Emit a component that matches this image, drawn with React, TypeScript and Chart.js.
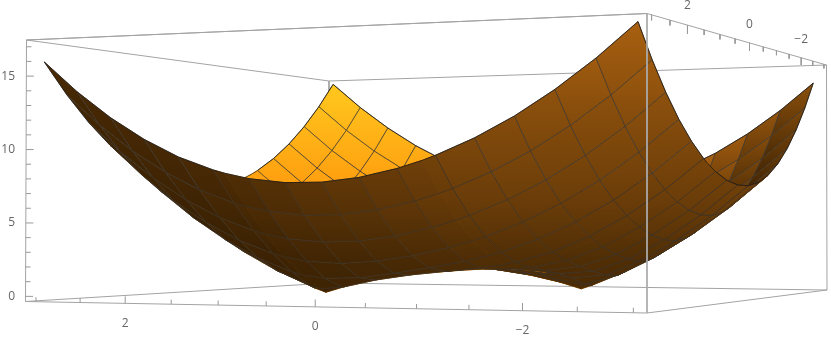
import React, { useEffect, useRef } from "react";
import { Chart, registerables } from "chart.js";
Chart.register(...registerables);

// Surface height read from the picture; rows run along x, columns along y.
const gridX = [-3,-2.625,-2.25,-1.875,-1.5,-1.125,-1,-0.75,-0.375,0,0.375,0.75,1,1.125,1.5,1.875,2.25,2.625,3];
const gridY = [-3,-2.625,-2.25,-1.875,-1.5,-1.125,-1,-0.75,-0.375,0,0.375,0.75,1,1.125,1.5,1.875,2.25,2.625,3];
const noMesh = [-1, 1];
const z00=[16.00,13.90,12.09,10.58,9.37,8.48,8.25,7.89,7.61,7.62,7.90,8.44,8.94,9.24,10.29,11.59,13.16,14.99,17.09];
const z01=[13.90,11.78,9.96,8.44,7.23,6.34,6.11,5.77,5.51,5.55,5.86,6.41,6.92,7.21,8.25,9.53,11.08,12.90,14.99];
const z02=[12.09,9.96,8.13,6.59,5.37,4.47,4.25,3.92,3.71,3.80,4.14,4.71,5.20,5.49,6.50,7.76,9.29,11.08,13.16];
const z03=[10.58,8.44,6.59,5.03,3.78,2.88,2.66,2.36,2.23,2.41,2.79,3.35,3.82,4.09,5.06,6.28,7.76,9.53,11.59];
const z04=[9.37,7.23,5.37,3.78,2.50,1.56,1.35,1.11,1.19,1.52,1.92,2.39,2.80,3.03,3.91,5.06,6.50,8.25,10.29];
const z05=[8.48,6.34,4.47,2.88,1.56,0.53,0.29,0.41,0.96,1.34,1.61,1.88,2.14,2.31,3.03,4.09,5.49,7.21,9.24];
const z06=[8.25,6.11,4.25,2.66,1.35,0.29,0.00,0.50,1.06,1.41,1.62,1.80,2.00,2.14,2.80,3.82,5.20,6.92,8.94];
const z07=[7.89,5.77,3.92,2.36,1.11,0.41,0.50,0.88,1.35,1.62,1.72,1.74,1.80,1.88,2.39,3.35,4.71,6.41,8.44];
const z08=[7.61,5.51,3.71,2.23,1.19,0.96,1.06,1.35,1.72,1.90,1.88,1.72,1.62,1.61,1.92,2.79,4.14,5.86,7.90];
const z09=[7.62,5.55,3.80,2.41,1.52,1.34,1.41,1.62,1.90,2.00,1.90,1.62,1.41,1.34,1.52,2.41,3.80,5.55,7.62];
const z10=[7.90,5.86,4.14,2.79,1.92,1.61,1.62,1.72,1.88,1.90,1.72,1.35,1.06,0.96,1.19,2.23,3.71,5.51,7.61];
const z11=[8.44,6.41,4.71,3.35,2.39,1.88,1.80,1.74,1.72,1.62,1.35,0.88,0.50,0.41,1.11,2.36,3.92,5.77,7.89];
const z12=[8.94,6.92,5.20,3.82,2.80,2.14,2.00,1.80,1.62,1.41,1.06,0.50,0.00,0.29,1.35,2.66,4.25,6.11,8.25];
const z13=[9.24,7.21,5.49,4.09,3.03,2.31,2.14,1.88,1.61,1.34,0.96,0.41,0.29,0.53,1.56,2.88,4.47,6.34,8.48];
const z14=[10.29,8.25,6.50,5.06,3.91,3.03,2.80,2.39,1.92,1.52,1.19,1.11,1.35,1.56,2.50,3.78,5.37,7.23,9.37];
const z15=[11.59,9.53,7.76,6.28,5.06,4.09,3.82,3.35,2.79,2.41,2.23,2.36,2.66,2.88,3.78,5.03,6.59,8.44,10.58];
const z16=[13.16,11.08,9.29,7.76,6.50,5.49,5.20,4.71,4.14,3.80,3.71,3.92,4.25,4.47,5.37,6.59,8.13,9.96,12.09];
const z17=[14.99,12.90,11.08,9.53,8.25,7.21,6.92,6.41,5.86,5.55,5.51,5.77,6.11,6.34,7.23,8.44,9.96,11.78,13.90];
const z18=[17.09,14.99,13.16,11.59,10.29,9.24,8.94,8.44,7.90,7.62,7.61,7.89,8.25,8.48,9.37,10.58,12.09,13.90,16.00];
const zRows=[z00,z01,z02,z03,z04,z05,z06,z07,z08,z09,z10,z11,z12,z13,z14,z15,z16,z17,z18];
const zTicks=[0,5,10,15];
const zMinorTicks=[0,1,2,3,4,5,6,7,8,9,10,11,12,13,14,15,16,17];
const planeTicks=[3,2.5,2,1.5,1,.5,0,-.5,-1,-1.5,-2,-2.5,-3];
const xLabels:[number,string,number][]=[[2,"2",20],[0,"0",20],[-2,"\u22122",20]];
const yLabels:[number,string,number][]=[[2,"2",-20],[0,"0",-18.5],[-2,"\u22122",-18]];

const RX=3.12, ZMIN=-0.35, ZMAX=17.46;
const cols=[
 {u:0,v:1,bx:647,by:313,tx:647,ty:13.5,w:.003339},
 {u:1,v:1,bx:25.5,by:301.5,tx:26.5,ty:40,w:.003824},
 {u:0,v:0,bx:827,by:290,tx:826.5,ty:65,w:.004444},
 {u:1,v:0,bx:329,by:283,tx:329,ty:81,w:.00495},
];
const toY=(py:number)=>(296.3-py)/14.68;
function proj(x:number,y:number,z:number){
  const u=(x+RX)/(2*RX), v=(y+RX)/(2*RX), t=(z-ZMIN)/(ZMAX-ZMIN);
  let sx=0,sy=0,sw=0;
  for(const c of cols){
    const b=(c.u?u:1-u)*(c.v?v:1-v)*c.w;
    sx+=b*((1-t)*c.bx+t*c.tx); sy+=b*((1-t)*c.by+t*c.ty); sw+=b;
  }
  return {px:sx/sw,py:sy/sw};
}
const P=(x:number,y:number,z:number)=>{const p=proj(x,y,z);return {x:p.px,y:toY(p.py)};};
const clamp=(v:number,a:number,b:number)=>Math.max(a,Math.min(b,v));
const ramp=(v:number,xs:number[],ys:number[])=>{
  if(v<=xs[0])return ys[0];
  for(let i=1;i<xs.length;i++) if(v<=xs[i]) return ys[i-1]+(ys[i]-ys[i-1])*(v-xs[i-1])/(xs[i]-xs[i-1]);
  return ys[ys.length-1];
};
const brown=(t:number)=>`rgb(${168*t},${96*t},${clamp(20*t-4,0,30)})`;
function underColor(x:number,y:number){
  const base=ramp(y,[40,100,200,260,290],[1,.82,.64,.47,.45]);
  const g=ramp(x,[60,200,300,400,480],[.47,.6,.8,.9,1]);
  return brown(clamp(base*g,.3,1.02));
}
function topColor(x:number,y:number){
  if(x>600){
    const edge=165-(x-715)*.78;
    return brown(clamp(.85-(x-715)*.0018-(y-edge)*.006,.35,1));
  }
  const k=clamp((y-85)/95,0,1.2);
  return `rgb(255,${200-40*k},${30-14*k})`;
}
const MESH="rgba(58,50,42,.8)";
const RIM="rgba(30,22,14,.85)";

export default function App(){
  const ref=useRef<HTMLCanvasElement>(null);
  useEffect(()=>{
    const canvas=ref.current!;
    const ctx=canvas.getContext("2d")!;
    const surface:any[]=[];
    const nx=gridX.length-1, ny=gridY.length-1;
    for(let i=nx-1;i>=0;i--)for(let j=0;j<ny;j++){
      const c=[[i,j],[i+1,j],[i+1,j+1],[i,j+1]];
      const pts=c.map(([a,b])=>proj(gridX[a],gridY[b],zRows[a][b]));
      let area=0;
      for(let k=0;k<4;k++){const p=pts[k],q=pts[(k+1)%4];area+=p.px*q.py-q.px*p.py;}
      const ys=pts.map(p=>p.py), xs=pts.map(p=>p.px);
      const y0=Math.min(...ys),y1=Math.max(...ys),cx=xs.reduce((a,b)=>a+b,0)/4;
      const col=area<0?topColor:underColor;
      const g=ctx.createLinearGradient(0,y0,0,y1+0.01);
      g.addColorStop(0,col(cx,y0));g.addColorStop(1,col(cx,y1));
      const mesh=[!noMesh.includes(gridY[j]),!noMesh.includes(gridX[i+1]),!noMesh.includes(gridY[j+1]),!noMesh.includes(gridX[i])];
      const rim=[j===0,i+1===nx,j+1===ny,i===0];
      const loop=[...pts,pts[0]].map(p=>({x:p.px,y:toY(p.py)}));
      const allMesh=mesh.every(Boolean);
      surface.push({type:"line",data:loop,borderColor:allMesh?MESH:g,backgroundColor:g,borderWidth:.85,pointRadius:0,fill:"shape",tension:0});
      mesh.forEach((m,k)=>{
        if(rim[k]) surface.push({type:"line",data:[loop[k],loop[k+1]],borderColor:RIM,borderWidth:.85,pointRadius:0,fill:false});
        else if(m&&!allMesh) surface.push({type:"line",data:[loop[k],loop[k+1]],borderColor:MESH,borderWidth:.85,pointRadius:0,fill:false});
      });
    }
    const BOX="#a3a3a3";
    const seg=(a:any,b:any,color=BOX,w=1)=>({type:"line",data:[a,b],borderColor:color,borderWidth:w,pointRadius:0,fill:false});
    const bA=P(RX,RX,ZMIN),tA=P(RX,RX,ZMAX),bB=P(-RX,RX,ZMIN),tB=P(-RX,RX,ZMAX),bC=P(-RX,-RX,ZMIN),tC=P(-RX,-RX,ZMAX),bD=P(RX,-RX,ZMIN),tD=P(RX,-RX,ZMAX);
    const back=[seg(tD,bD),seg(tD,tA),seg(tD,tC),seg(bD,bA),seg(bD,bC),seg(tA,tB),seg(tC,bC)];
    const front=[seg(bA,bB),seg(bB,bC),seg(tB,bB,"#ababab"),seg(tA,bA),seg(tA,tB),seg(tB,tC)];
    const ticks:any[]=[];
    for(const v of planeTicks){
      const maj=v%2===0;
      ticks.push(seg(P(v,RX,ZMIN),P(v,RX,ZMIN+(maj?.47:.3)),"#999"));
      ticks.push(seg(P(-RX,v,ZMAX),P(-RX,v,ZMAX-(maj?.55:.33)),"#999"));
    }
    for(const z of zMinorTicks){
      const a=P(RX,RX,z); const b={x:a.x+(z%5===0?7.5:5),y:a.y};
      ticks.push(seg(a,b,"#999"));
    }
    const all=[...back,...surface,...front,...ticks];
    all.forEach((d:any,i:number)=>{d.order=all.length-i;});
    const labels={id:"axisLabels",afterDraw(ch:any){
      const c=ch.ctx;c.save();c.font='12px "Open Sans"';c.fillStyle="#666";c.textAlign="center";c.textBaseline="middle";
      const sx=ch.scales.x,sy=ch.scales.y;
      const put=(t:string,p:{x:number,y:number},dy:number)=>{c.fillText(t,sx.getPixelForValue(p.x),sy.getPixelForValue(p.y)+dy);};
      xLabels.forEach(([v,t,dy])=>put(t,P(v,RX,ZMIN),dy));
      yLabels.forEach(([v,t,dy])=>put(t,P(-RX,v,ZMAX),dy));
      c.restore();
    }};
    const chart=new Chart(canvas,{type:"line",data:{datasets:all as any},plugins:[labels],options:{
      animation:false,responsive:false,parsing:false as any,normalized:false,
      layout:{padding:0},
      plugins:{legend:{display:false},tooltip:{enabled:false}},
      scales:{
        x:{type:"linear",display:false,min:20,max:831},
        y:{type:"linear",min:toY(337),max:toY(0),
          afterBuildTicks:(s:any)=>{s.ticks=zTicks.map(v=>({value:v}));},
          afterFit:(s:any)=>{s.width=20;s.paddingTop=0;s.paddingBottom=0;},
          border:{display:false},grid:{display:false,drawTicks:false},
          ticks:{padding:5,color:"#666",font:{family:"Open Sans",size:12},autoSkip:false}}
      }}} as any);
    return ()=>chart.destroy();
  },[]);
  return <div style={{position:"absolute",left:0,top:0,width:831,height:337,background:"#fff"}}><canvas ref={ref} width={831} height={337} style={{display:"block"}}/></div>;
}
